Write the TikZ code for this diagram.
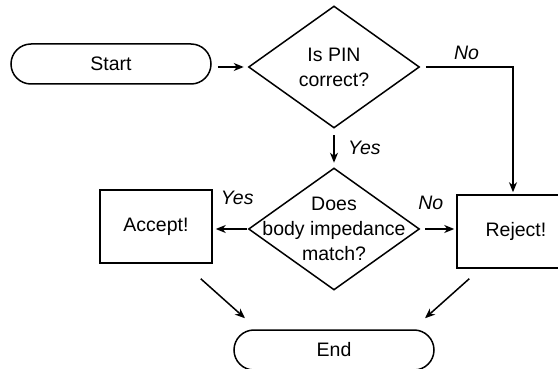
\documentclass[tikz,border=0pt]{standalone}
\usepackage{fontspec}
\setmainfont{Liberation Sans}
\usetikzlibrary{shapes.geometric,shapes.misc,arrows.meta,calc}

\begin{document}
\begin{tikzpicture}[x=1pt,y=-1pt,line width=1.5pt,font=\fontsize{19.5}{25}\selectfont]
\tikzstyle{terminal}=[draw,rounded rectangle,minimum width=200pt,minimum height=40pt,inner sep=0pt];
\tikzstyle{decision}=[draw,diamond,minimum width=171pt,minimum height=122pt,inner sep=0pt];
\tikzstyle{process}=[draw,rectangle,minimum height=73pt,inner sep=0pt];
\tikzstyle{flow}=[-{Stealth[length=10pt,width=8pt,inset=3pt]}];
\tikzstyle{answer}=[font=\fontsize{19.5}{25}\selectfont\itshape];
\clip (0,0) rectangle (558,369);
\node[terminal] (start) at (111,64) {Start};
\node[decision,label={[align=center]center:Is PIN\\correct?}] (pin) at (334,67) {};
\node[decision,label={[align=center]center:Does\\body impedance\\match?}] (imp) at (334,229) {};
\node[process,minimum width=112pt] (acc) at (156,226.5) {Accept!};
\node[process,minimum width=118pt] (rej) at (516,231.5) {Reject!};
\node[terminal] (end) at (334,350) {End};
\draw[flow,shorten <=6pt,shorten >=4pt] (start.east |- pin.west) -- (pin.west);
\draw[flow,shorten <=6.5pt,shorten >=4.5pt] (pin) -- node[answer,right,xshift=10pt]{Yes} (imp);
\draw[flow,shorten <=5.5pt,shorten >=2pt] (pin.east) -| node[answer,above,pos=0.25,yshift=3pt]{No} ([xshift=-3pt]rej.north);
\draw[flow,shorten <=1pt,shorten >=3pt] (imp.west) -- node[answer,above,xshift=7pt,yshift=20.7pt]{Yes} (acc.east |- imp.west);
\draw[flow,shorten <=5pt,shorten >=2pt] (imp.east) -- node[answer,above,xshift=-7.5pt,yshift=15.7pt]{No} (rej.west |- imp.east);
\draw[flow] ($(acc.south east)+(-12,15)$) -- ($(end.north)+(-89,-11)$);
\draw[flow] ($(rej.south west)+(13,10)$) -- ($(end.north)+(91,-11)$);
\end{tikzpicture}
\end{document}
